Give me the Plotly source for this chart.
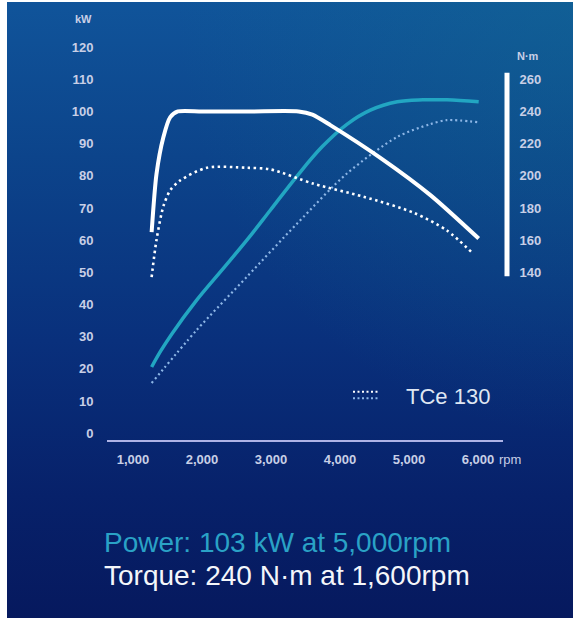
import plotly.graph_objects as go
import urllib.parse

# ---------------- data ----------------
rpm_ticks = [1000, 2000, 3000, 4000, 5000, 6000]
rpm_tick_labels = ["1,000", "2,000", "3,000", "4,000", "5,000", "6,000"]
kw_ticks = [0, 10, 20, 30, 40, 50, 60, 70, 80, 90, 100, 110, 120]
nm_ticks = [140, 160, 180, 200, 220, 240, 260]

# solid curves (main engine)
torque_rpm = [1270, 1340, 1440, 1540, 1650, 2000, 2700, 3400, 3600, 3860, 4590, 5310, 6010]
torque_nm = [165, 201, 224, 236.5, 240, 240, 240, 240, 238, 231.5, 211, 188, 161]

power_rpm = [1270, 1400, 1560, 1920, 2300, 2650, 2990, 3380, 3740, 4100, 4440, 4830, 5200, 5550, 6010]
power_kw = [20.6, 25.5, 30.8, 41.3, 51, 60, 69.3, 80, 89, 96, 100.4, 103, 103.6, 103.6, 103]

# dotted curves (TCe 130)
tce130_torque_rpm = [1270, 1340, 1440, 1540, 1680, 2070, 2650, 2990, 3620, 4340, 5070, 5550, 5920]
tce130_torque_nm = [137, 160, 181, 191, 197, 205, 205, 204, 195, 187, 177, 166, 152]

tce130_power_rpm = [1270, 1920, 2650, 3380, 4100, 4830, 5300, 5550, 6010]
tce130_power_kw = [15.6, 32, 48.6, 65.2, 80.7, 92.1, 96, 97.3, 96.6]

legend_label = "TCe 130"
power_text = "Power: 103 kW at 5,000rpm"
torque_text = "Torque: 240 N·m at 1,600rpm"

# ---------------- styling ----------------
W, H = 575, 618
L, R, T, B = 107, 68, 30, 177.3
plot_w = W - L - R
plot_h = H - T - B

WHITE = "#ffffff"
TEAL = "#22a6c2"
DOT_BLUE = "#8db6e6"
TICK_COL = "#c8cfe6"
FONT = "Liberation Sans, Arial, sans-serif"

svg = (
    '<svg xmlns="http://www.w3.org/2000/svg" width="566" height="616" viewBox="0 0 566 616" preserveAspectRatio="none">'
    '<defs><linearGradient id="g" x1="0" y1="0" x2="0" y2="1">'
    '<stop offset="0" stop-color="#10549a"/>'
    '<stop offset="0.25" stop-color="#0c448b"/>'
    '<stop offset="0.55" stop-color="#09307c"/>'
    '<stop offset="0.8" stop-color="#07216a"/>'
    '<stop offset="1" stop-color="#06195e"/>'
    '</linearGradient>'
    '<radialGradient id="r" cx="1" cy="0" r="0.7">'
    '<stop offset="0" stop-color="#127090" stop-opacity="0.4"/>'
    '<stop offset="1" stop-color="#127090" stop-opacity="0"/>'
    '</radialGradient></defs>'
    '<rect width="566" height="616" fill="url(#g)"/>'
    '<rect width="566" height="616" fill="url(#r)"/>'
    '</svg>'
)
svg_uri = "data:image/svg+xml;charset=utf-8," + urllib.parse.quote(svg)

def px_x(px):
    return (px - L) / plot_w

def px_y(py):
    return (H - B - py) / plot_h

fig = go.Figure()

fig.add_trace(go.Scatter(
    x=tce130_power_rpm, y=tce130_power_kw, mode="lines",
    line=dict(color=DOT_BLUE, width=2.2, dash="2px,3px", shape="spline", smoothing=0.8),
    hoverinfo="skip", showlegend=False))
fig.add_trace(go.Scatter(
    x=tce130_torque_rpm, y=tce130_torque_nm, yaxis="y2", mode="lines",
    line=dict(color=WHITE, width=2.6, dash="2.5px,3.5px", shape="spline", smoothing=0.8),
    hoverinfo="skip", showlegend=False))
fig.add_trace(go.Scatter(
    x=power_rpm, y=power_kw, mode="lines",
    line=dict(color=TEAL, width=3.5, shape="spline", smoothing=1.0),
    hoverinfo="skip", showlegend=False))
fig.add_trace(go.Scatter(
    x=torque_rpm, y=torque_nm, yaxis="y2", mode="lines",
    line=dict(color=WHITE, width=4, shape="spline", smoothing=0.7),
    hoverinfo="skip", showlegend=False))

shapes = [
    dict(type="line", xref="paper", yref="paper", x0=px_x(107), x1=px_x(503), y0=0, y1=0,
         line=dict(color="#aeb3e6", width=2)),
    dict(type="line", xref="paper", yref="y2", x0=1, x1=1, y0=137.5, y1=264,
         line=dict(color=WHITE, width=5)),
    dict(type="line", xref="paper", yref="paper", x0=px_x(353), x1=px_x(380),
         y0=px_y(391.5), y1=px_y(391.5), line=dict(color=WHITE, width=2.2, dash="2px,2.5px")),
    dict(type="line", xref="paper", yref="paper", x0=px_x(353), x1=px_x(380),
         y0=px_y(398), y1=px_y(398), line=dict(color=DOT_BLUE, width=2.2, dash="2px,2.5px")),
]

annotations = [
    dict(text="<b>kW</b>", xref="paper", yref="paper", x=px_x(83), y=px_y(19), showarrow=False,
         font=dict(family=FONT, size=11, color=TICK_COL), xanchor="center", yanchor="middle"),
    dict(text="<b>N·m</b>", xref="paper", yref="paper", x=px_x(528), y=px_y(56), showarrow=False,
         font=dict(family=FONT, size=11, color=TICK_COL), xanchor="center", yanchor="middle"),
    dict(text="rpm", xref="paper", yref="paper", x=px_x(497), y=px_y(459), showarrow=False,
         font=dict(family=FONT, size=13, color=TICK_COL), xanchor="left", yanchor="middle"),
    dict(text=legend_label, xref="paper", yref="paper", x=px_x(404), y=px_y(396), showarrow=False,
         font=dict(family=FONT, size=22, color="#dfe6f2"), xanchor="left", yanchor="middle"),
    dict(text=power_text, xref="paper", yref="paper", x=px_x(102), y=px_y(542), showarrow=False,
         font=dict(family=FONT, size=28, color="#2aa2c6"), xanchor="left", yanchor="middle"),
    dict(text=torque_text, xref="paper", yref="paper", x=px_x(102), y=px_y(575), showarrow=False,
         font=dict(family=FONT, size=28, color="#f4f6fa"), xanchor="left", yanchor="middle"),
]

images = [dict(source=svg_uri, xref="paper", yref="paper",
               x=px_x(7), y=px_y(2), sizex=566 / plot_w, sizey=616 / plot_h,
               xanchor="left", yanchor="top", sizing="stretch", layer="below")]

tick_font = dict(family=FONT, size=13, color=TICK_COL)

fig.update_layout(
    width=W, height=H,
    margin=dict(l=L, r=R, t=T, b=B, autoexpand=False),
    paper_bgcolor="white", plot_bgcolor="rgba(0,0,0,0)",
    showlegend=False,
    font=dict(family=FONT, color=TICK_COL),
    xaxis=dict(range=[623.2, 6420.3], tickvals=rpm_ticks,
               ticktext=[f"<b>{t}</b>" for t in rpm_tick_labels],
               showgrid=False, zeroline=False, showline=False,
               ticks="outside", ticklen=6, tickcolor="rgba(0,0,0,0)",
               tickfont=tick_font, fixedrange=True),
    yaxis=dict(range=[-2.4, 125.3], tickvals=kw_ticks, ticktext=[f"<b>{v}</b>" for v in kw_ticks],
               showgrid=False, zeroline=False,
               showline=False, ticks="outside", ticklen=10, tickcolor="rgba(0,0,0,0)",
               tickfont=tick_font, fixedrange=True),
    yaxis2=dict(range=[35.2, 290.6], tickvals=nm_ticks, ticktext=[f"<b>{v}</b>" for v in nm_ticks],
                overlaying="y", side="right",
                showgrid=False, zeroline=False, showline=False,
                ticks="outside", ticklen=9, tickcolor="rgba(0,0,0,0)",
                tickfont=tick_font, fixedrange=True),
    shapes=shapes, annotations=annotations, images=images,
)

fig.write_html("out.html", config={"displayModeBar": False},
               post_script="document.body.style.margin='0';document.body.style.padding='0';")
